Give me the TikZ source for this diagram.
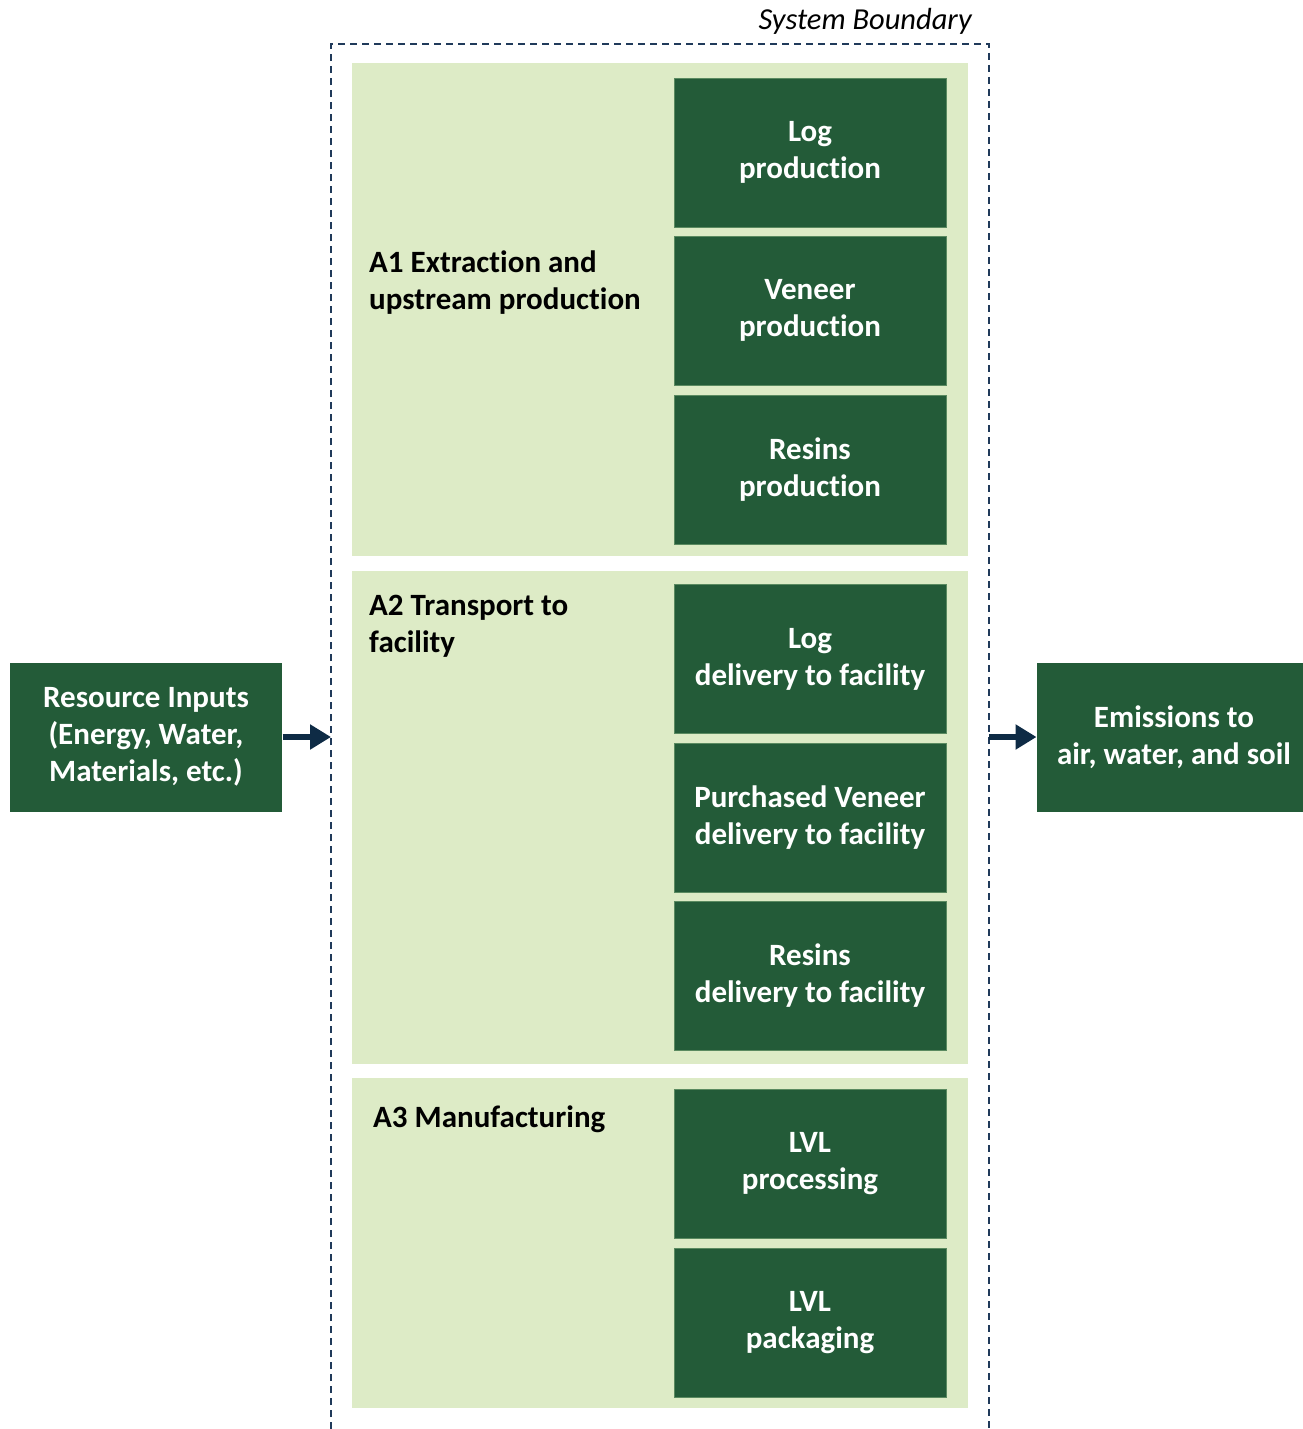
\documentclass[tikz,border=0pt]{standalone}
\usepackage{fontspec}
\setmainfont{Carlito}[Ligatures=NoCommon]
\usepackage{xcolor}
\usetikzlibrary{arrows.meta}

\definecolor{darkgreen}{HTML}{235B38}
\definecolor{lightgreen}{HTML}{DDEBC6}
\definecolor{edgegreen}{HTML}{5A8A60}
\definecolor{arrownavy}{HTML}{0E2B45}
\definecolor{boundnavy}{HTML}{203A5A}

\tikzset{
  procbox/.style={draw=edgegreen, line width=1pt, fill=darkgreen, text=white,
    minimum width=272pt, minimum height=149pt, inner sep=0pt, align=center,
    font=\bfseries\fontsize{31}{37}\selectfont},
  stagepanel/.style={fill=lightgreen, minimum width=616pt, inner sep=0pt},
  stagelabel/.style={anchor=base west, align=left, inner sep=0pt,
    font=\bfseries\fontsize{31}{37}\selectfont},
  flow/.style={arrownavy, line width=6pt, -{Triangle[length=21pt,width=24pt]}},
}

\begin{document}
\begin{tikzpicture}[x=1pt, y=-1pt]
\useasboundingbox (0,0) rectangle (1303,1429);

% system boundary (open at the bottom)
\coordinate (bl) at (331,44);
\coordinate (br) at (989,44);
\draw[boundnavy, line width=1.5pt, dash pattern=on 7pt off 5pt]
  (331,1429) -- (bl) -- (br) -- (989,1429);
\node[anchor=base east, inner sep=0pt, font=\itshape\fontsize{30.5}{36}\selectfont] (sb) at (972,30) {System Boundary};

% stage panels
\node[stagepanel, minimum height=493pt] (a1) at (660,309.5) {};
\node[stagepanel, minimum height=493pt] (a2) at (660,817.5) {};
\node[stagepanel, minimum height=330pt] (a3) at (660,1243) {};

% labels: base = baseline of the last line
\node[stagelabel] (a1lab) at (369,309) {A1 Extraction and\\upstream production};
\node[stagelabel] (a2lab) at (369,652) {A2 Transport to\\facility};
\node[stagelabel] (a3lab) at (373,1127) {A3 Manufacturing};

% A1 processes
\node[procbox] (logprod) at (810,152.5) {Log\\production};
\node[procbox] (venprod) at (810,310.5) {Veneer\\production};
\node[procbox] (resprod) at (810,469.5) {Resins\\production};

% A2 processes
\node[procbox] (logdel) at (810,659) {Log\\delivery to facility};
\node[procbox] (vendel) at (810,818) {Purchased Veneer\\delivery to facility};
\node[procbox] (resdel) at (810,976) {Resins\\delivery to facility};

% A3 processes
\node[procbox] (lvlproc) at (810,1164) {LVL\\processing};
\node[procbox] (lvlpack) at (810,1323) {LVL\\packaging};

% inputs and outputs
\node[procbox, draw=none] (inputs) at (146,737) {Resource Inputs\\(Energy, Water,\\Materials, etc.)};
\node[procbox, draw=none, minimum width=274pt] (emis) at (1174,737) {Emissions to\\air, water, and soil};

\coordinate (inhit) at (331,737);
\coordinate (outgo) at (989,737);
\draw[flow] (inputs) -- (inhit);
\draw[flow] (outgo) -- (emis);
\end{tikzpicture}
\end{document}
